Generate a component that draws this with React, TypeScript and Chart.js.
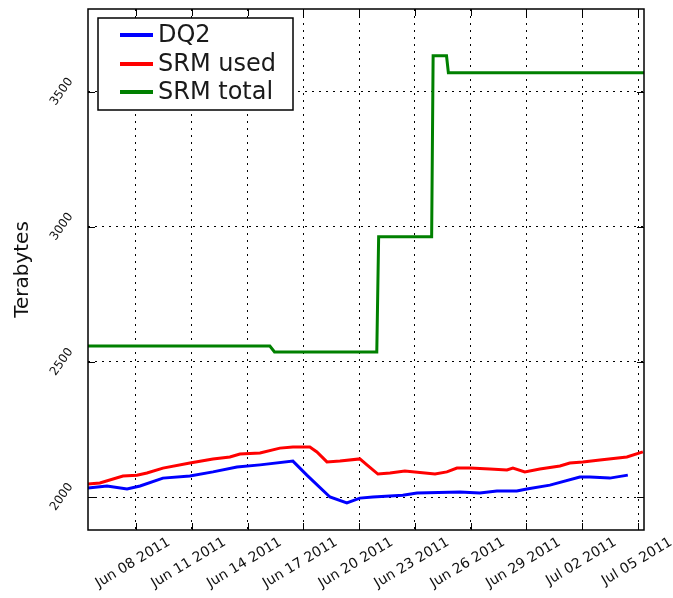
import React, { useEffect, useRef } from 'react';
import { Chart, registerables } from 'chart.js';

Chart.register(...registerables);

// ---- data ----
const tickDays = [8, 11, 14, 17, 20, 23, 26, 29, 32, 35];
const tickLabels = [
  'Jun 08 2011', 'Jun 11 2011', 'Jun 14 2011', 'Jun 17 2011', 'Jun 20 2011',
  'Jun 23 2011', 'Jun 26 2011', 'Jun 29 2011', 'Jul 02 2011', 'Jul 05 2011',
];
const yTicks = [2000, 2500, 3000, 3500];
const seriesNames = ['DQ2', 'SRM used', 'SRM total'];
const seriesColors = ['#0000ff', '#ff0000', '#008000'];

const dq2Days = [5.42, 6.44, 7.52, 8.22, 9.45, 10.9, 12.14, 13.43, 14.67, 16.44, 17.19, 18.43, 19.34, 20.04, 20.74, 22.35, 23.11, 25.42, 26.49, 27.41, 28.48, 29.02, 30.26, 31.87, 32.41, 33.48, 34.45];
const dq2Values = [2033, 2041, 2030, 2041, 2070, 2078, 2093, 2111, 2119, 2133, 2081, 2000, 1978, 1996, 2000, 2007, 2015, 2019, 2015, 2022, 2022, 2030, 2044, 2074, 2074, 2070, 2081];

const srmUsedDays = [5.42, 6.06, 7.3, 8.05, 8.59, 9.45, 10.9, 12.14, 13.05, 13.59, 14.67, 15.74, 16.44, 17.35, 17.73, 18.27, 18.97, 20.04, 20.42, 21.01, 21.66, 22.46, 24.08, 24.72, 25.26, 25.96, 27.03, 27.95, 28.27, 28.91, 29.72, 30.8, 31.33, 32.03, 32.95, 34.4, 35.26];
const srmUsedValues = [2048, 2052, 2078, 2081, 2089, 2107, 2126, 2141, 2148, 2159, 2163, 2181, 2185, 2185, 2167, 2130, 2133, 2141, 2119, 2085, 2089, 2096, 2085, 2093, 2107, 2107, 2104, 2100, 2107, 2093, 2104, 2115, 2126, 2130, 2137, 2148, 2167];

const srmTotalDays = [5.42, 15.2, 15.45, 20.95, 21.05, 23.9, 23.98, 24.7, 24.8, 35.32];
const srmTotalValues = [2559, 2559, 2537, 2537, 2963, 2963, 3633, 3633, 3570, 3570];

const xMin = 5.42;
const xMax = 35.32;
const yMin = 1878;
const yMax = 3806;

const FONT = "'DejaVu Sans', sans-serif";

const toPoints = (xs: number[], ys: number[]) => xs.map((x, i) => ({ x, y: ys[i] }));

const framePlugin = {
  id: 'frameAndLegend',
  afterDraw(chart: any) {
    const ctx = chart.ctx;
    const { left, right, top, bottom } = chart.chartArea;
    const xs = chart.scales.x;
    const ys = chart.scales.y;
    ctx.save();
    ctx.strokeStyle = '#000';
    ctx.lineWidth = 1.5;
    ctx.setLineDash([]);
    ctx.strokeRect(left, top, right - left, bottom - top);
    const tl = 7;
    ctx.lineWidth = 1;
    ctx.beginPath();
    xs.ticks.forEach((t: any) => {
      const px = Math.round(xs.getPixelForValue(t.value)) + 0.5;
      ctx.moveTo(px, bottom);
      ctx.lineTo(px, bottom - tl);
      ctx.moveTo(px, top);
      ctx.lineTo(px, top + tl);
    });
    ys.ticks.forEach((t: any) => {
      const py = Math.round(ys.getPixelForValue(t.value)) + 0.5;
      ctx.moveTo(left, py);
      ctx.lineTo(left + tl, py);
      ctx.moveTo(right, py);
      ctx.lineTo(right - tl, py);
    });
    ctx.stroke();

    // legend box
    const bx = left + 10;
    const by = top + 9;
    const bw = 195;
    const bh = 92;
    ctx.fillStyle = '#fff';
    ctx.fillRect(bx, by, bw, bh);
    ctx.lineWidth = 1.5;
    ctx.strokeStyle = '#000';
    ctx.strokeRect(bx, by, bw, bh);
    const rowY = [17, 46, 74];
    ctx.font = `24px ${FONT}`;
    ctx.textBaseline = 'middle';
    ctx.textAlign = 'left';
    chart.data.datasets.forEach((ds: any, i: number) => {
      const y = by + rowY[i];
      ctx.strokeStyle = ds.borderColor;
      ctx.lineWidth = 4;
      ctx.beginPath();
      ctx.moveTo(bx + 22, y);
      ctx.lineTo(bx + 55, y);
      ctx.stroke();
      ctx.fillStyle = '#1a1a1a';
      ctx.fillText(ds.label, bx + 60, y + 1);
    });
    ctx.restore();
  },
};

export default function App() {
  const ref = useRef<HTMLCanvasElement>(null);
  useEffect(() => {
    if (!ref.current) return;
    const seriesData = [
      toPoints(dq2Days, dq2Values),
      toPoints(srmUsedDays, srmUsedValues),
      toPoints(srmTotalDays, srmTotalValues),
    ];
    const chart = new Chart(ref.current, {
      type: 'line',
      data: {
        datasets: seriesNames.map((name, i) => ({
          label: name,
          data: seriesData[i],
          borderColor: seriesColors[i],
          backgroundColor: seriesColors[i],
          borderWidth: 3,
          pointRadius: 0,
          tension: 0,
          fill: false,
        })),
      },
      options: {
        responsive: false,
        animation: false,
        devicePixelRatio: 1,
        layout: { padding: { top: 9, right: 29, left: 0, bottom: 0 } },
        plugins: { legend: { display: false }, tooltip: { enabled: false } },
        scales: {
          x: {
            type: 'linear',
            min: xMin,
            max: xMax,
            afterBuildTicks: (s: any) => {
              s.ticks = tickDays.map((v) => ({ value: v }));
            },
            afterFit: (s: any) => {
              s.height = 68;
              s.paddingLeft = 0;
              s.paddingRight = 0;
            },
            grid: { color: '#000', lineWidth: 1, drawTicks: false },
            border: { display: false, dash: [2, 5] },
            ticks: {
              autoSkip: false,
              minRotation: 31,
              maxRotation: 31,
              labelOffset: 33,
              padding: 4,
              color: '#111',
              font: { family: FONT, size: 14 },
              callback: (_v: any, i: number) => tickLabels[i],
            },
          },
          y: {
            type: 'linear',
            min: yMin,
            max: yMax,
            afterBuildTicks: (s: any) => {
              s.ticks = yTicks.map((v) => ({ value: v }));
            },
            afterFit: (s: any) => {
              s.width = 88;
              s.paddingTop = 0;
              s.paddingBottom = 0;
            },
            grid: { color: '#000', lineWidth: 1, drawTicks: false },
            border: { display: false, dash: [2, 5] },
            title: {
              display: true,
              text: 'Terabytes',
              color: '#111',
              font: { family: FONT, size: 20 },
              padding: { top: 11, bottom: 0 },
            },
            ticks: {
              autoSkip: false,
              minRotation: 55,
              maxRotation: 55,
              crossAlign: 'center',
              padding: 11,
              color: '#111',
              font: { family: FONT, size: 12 },
              callback: (v: any) => String(v),
            },
          },
        },
      },
      plugins: [framePlugin],
    } as any);
    return () => chart.destroy();
  }, []);
  return (
    <div style={{ position: 'fixed', left: 0, top: 0, width: 673, height: 598, background: '#fff' }}>
      <canvas ref={ref} width={673} height={598} style={{ display: 'block' }} />
    </div>
  );
}
